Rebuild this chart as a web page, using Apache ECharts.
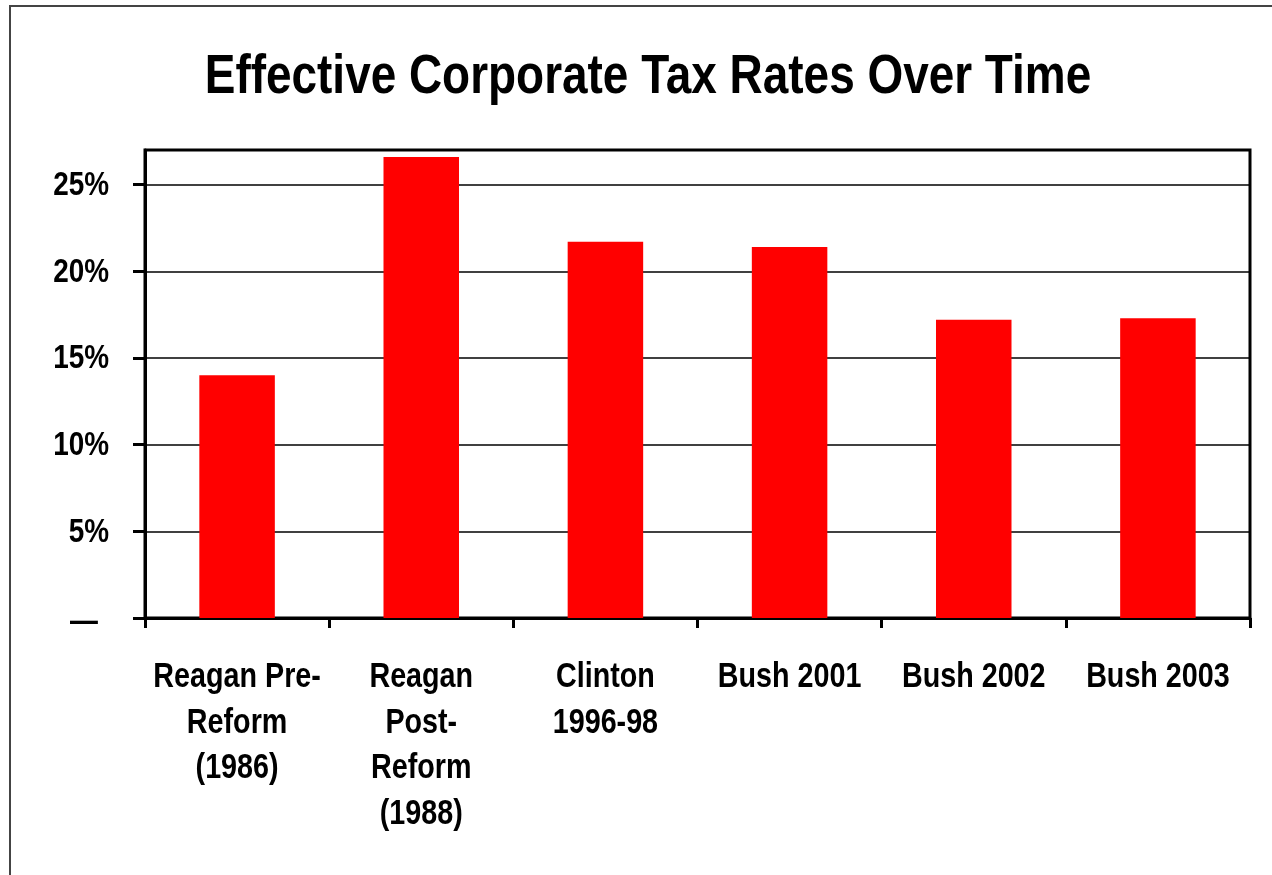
<!DOCTYPE html>
<html>
<head>
<meta charset="utf-8">
<script src="https://cdn.jsdelivr.net/npm/echarts@6/dist/echarts.min.js"></script>
<style>html,body{margin:0;padding:0;background:#fff}#c{width:1272px;height:875px}</style>
</head>
<body>
<div id="c"></div>
<script>
const titleText = 'Effective Corporate Tax Rates Over Time';
const categories = ['Reagan Pre-\nReform\n(1986)', 'Reagan\nPost-\nReform\n(1988)', 'Clinton\n1996-98', 'Bush 2001', 'Bush 2002', 'Bush 2003'];
const rates = [14.0, 26.6, 21.7, 21.4, 17.2, 17.3];
const yTickValues = [0, 5, 10, 15, 20, 25];
const yTickLabels = ['\u2014', '5%', '10%', '15%', '20%', '25%'];

const FONT = '"Liberation Sans", Arial, sans-serif';
const NARROW = 0.82; // horizontal condensing to imitate a narrow typeface
const chart = echarts.init(document.getElementById('c'), null, { renderer: 'canvas' });
chart.setOption({
  backgroundColor: '#fff',
  animation: false,
  grid: {
    left: 145, right: 22, top: 150, bottom: 257,
    show: true, borderColor: '#000', borderWidth: 3, backgroundColor: 'transparent'
  },
  xAxis: {
    type: 'category', data: categories,
    axisLine: { lineStyle: { color: '#000', width: 3 } },
    axisTick: { show: true, length: 10, lineStyle: { color: '#000', width: 3 } },
    axisLabel: { show: false }
  },
  yAxis: {
    type: 'value', min: 0, max: 27, interval: 5,
    axisLine: { show: true, lineStyle: { color: '#000', width: 3 } },
    axisTick: { show: true, length: 12, customValues: yTickValues, lineStyle: { color: '#000', width: 3 } },
    splitLine: { show: true, lineStyle: { color: '#000', width: 1.5 } },
    axisLabel: { show: false, customValues: yTickValues }
  },
  series: [{
    type: 'bar', data: rates, barWidth: '41%',
    itemStyle: { color: '#ff0000' }
  }]
});

// Text drawn as condensed graphic text, positioned from the chart's own scales
const graphics = [{
  type: 'rect', shape: { x: 10, y: 6, width: 1400, height: 1000 },
  style: { fill: 'none', stroke: '#444', lineWidth: 2 }, z: -1, silent: true
}, {
  type: 'text', x: 648, y: 50, scaleX: NARROW,
  style: { x: 0, y: 0, text: titleText, fill: '#000', font: 'bold 56px ' + FONT, textAlign: 'center', textVerticalAlign: 'top' }
}];
categories.forEach((c, i) => {
  const p = chart.convertToPixel({ gridIndex: 0 }, [i, 0]);
  graphics.push({
    type: 'text', x: p[0], y: p[1] + 37, scaleX: NARROW,
    style: { x: 0, y: 0, text: c, fill: '#000', font: 'bold 35px ' + FONT, lineHeight: 45.5, textAlign: 'center', textVerticalAlign: 'top' }
  });
});
yTickValues.forEach((v, i) => {
  const p = chart.convertToPixel({ gridIndex: 0 }, [0, v]);
  const isZero = v === 0;
  graphics.push({
    type: 'text', x: isZero ? 98 : 109, y: p[1] + (isZero ? 4 : 1), scaleX: NARROW,
    style: { x: 0, y: 0, text: yTickLabels[i], fill: '#000', font: 'bold 34px ' + FONT, textAlign: 'right', textVerticalAlign: 'middle' }
  });
});
chart.setOption({ graphic: graphics });
</script>
</body>
</html>
